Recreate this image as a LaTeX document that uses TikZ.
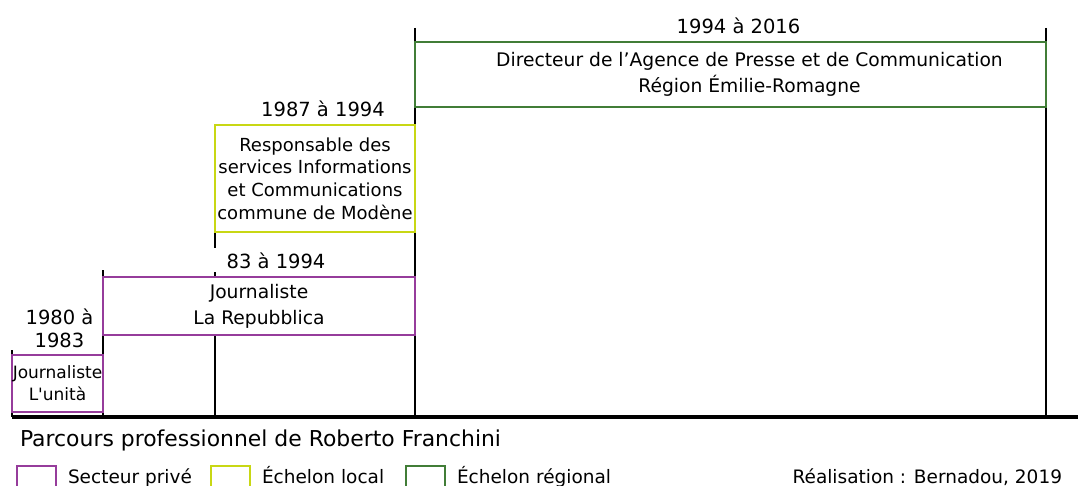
\documentclass[tikz,border=0pt]{standalone}
\usepackage{fontspec}
\setmainfont{DejaVu Sans}
\usetikzlibrary{positioning}
\definecolor{prive}{RGB}{150,60,155}
\definecolor{local}{RGB}{200,215,20}
\definecolor{regional}{RGB}{65,125,55}

\begin{document}
\begin{tikzpicture}[
        x=1pt, y=-1pt, line width=2.6pt,
        every node/.style={inner sep=0pt, outer sep=0pt},
        poste/.style={draw, fill=white, align=center, font=\fontsize{18.7}{26}\selectfont},
        privebox/.style={poste, draw=prive},
        localbox/.style={poste, draw=local, font=\fontsize{18}{22.7}\selectfont},
        regionbox/.style={poste, draw=regional},
        date/.style={align=center, font=\fontsize{19.5}{23}\selectfont},
        tick/.style={line width=2.8pt},
        legbox/.style={draw, fill=white, minimum width=39pt, minimum height=28pt, anchor=north west},
        legtext/.style={font=\fontsize{18.5}{22}\selectfont},
        ]
        \useasboundingbox (0,0) rectangle (1078,486);

        % axe et reperes
        \draw[line width=3.2pt] (12,417) -- (1078,417);
        \draw[tick] (12,350) -- (12,417);
        \draw[tick] (103,270) -- (103,417);
        \draw[tick] (215,232) -- (215,248);
        \draw[tick] (215,272) -- (215,417);
        \draw[tick] (415,28) -- (415,417);
        \draw[tick] (1046,28) -- (1046,417);

        % postes
        \node[privebox, minimum width=91pt, minimum height=57pt,
              font=\fontsize{17}{22}\selectfont] (unita) at (57.5,383.5)
              {Journaliste\\L\textquotesingle unità};
        \node[privebox, minimum width=312pt, minimum height=58pt] (repubblica) at (259,306)
              {Journaliste\\La Repubblica};
        \node[localbox, minimum width=200pt, minimum height=107pt] (modene) at (315,178.5)
              {Responsable des\\services Informations\\et Communications\\commune de Modène};
        \node[regionbox, minimum width=631pt, minimum height=65pt] (agence) at (730.5,74.5) {};
        \node[align=center, font=\fontsize{18.7}{26}\selectfont, xshift=19pt] (agencetxt) at (agence.center)
              {Directeur de l’Agence de Presse et de Communication\\Région Émilie-Romagne};

        % dates
        \node[date, above=7pt of unita.north, xshift=2pt]       (an80) {1980 à\\1983};
        \node[date, above=8pt of repubblica.north, xshift=17pt] (an83) {83 à 1994};
        \node[date, above=8pt of modene.north, xshift=8pt]      (an87) {1987 à 1994};
        \node[date, above=8pt of agence.north, xshift=8pt]      (an94) {1994 à 2016};

        % titre et legende
        \node[anchor=west, font=\fontsize{21.9}{26}\selectfont] (titre) at (20,440)
              {Parcours professionnel de Roberto Franchini};
        \node[legtext, anchor=base east] (realisation) at (1062,483) {Réalisation : Bernadou, 2019};
        \node[legbox, draw=prive]    (legprive)  at (17,466)  {};
        \node[legbox, draw=local]    (leglocal)  at (211,466) {};
        \node[legbox, draw=regional] (legregion) at (406,466) {};
        \node[legtext, anchor=base west, xshift=12pt] (txtprive)  at (legprive.east |- realisation.base)  {Secteur privé};
        \node[legtext, anchor=base west, xshift=12pt] (txtlocal)  at (leglocal.east |- realisation.base)  {Échelon local};
        \node[legtext, anchor=base west, xshift=12pt] (txtregion) at (legregion.east |- realisation.base) {Échelon régional};
      \end{tikzpicture}
\end{document}
